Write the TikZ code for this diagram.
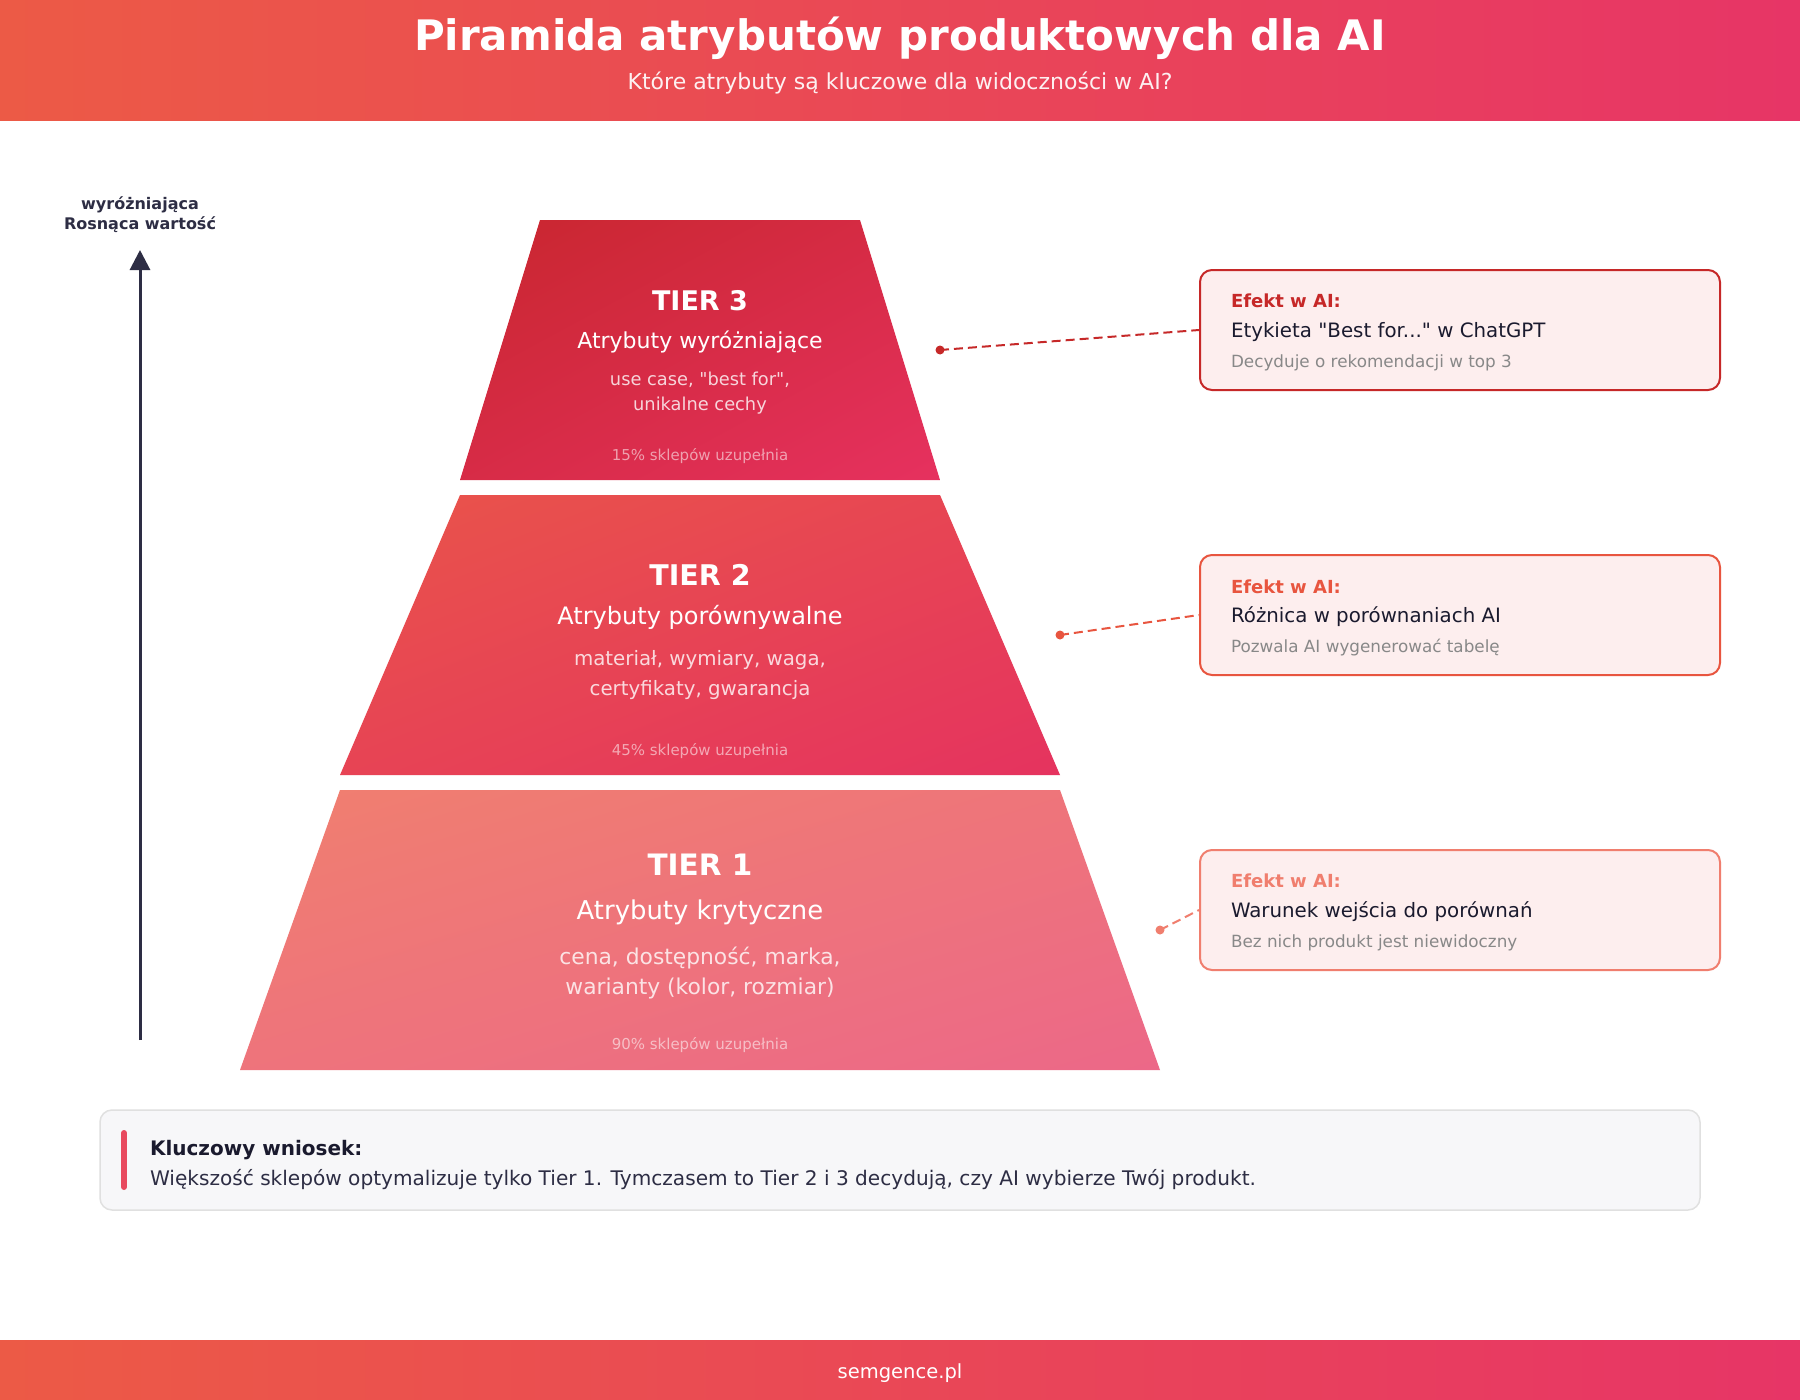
\documentclass[tikz,border=0pt]{standalone}
\usepackage{fontspec}
\setmainfont{DejaVu Sans}[Ligatures=TeXOff]
\usetikzlibrary{arrows.meta,shadings}
\definecolor{hdrL}{HTML}{EC5A46}
\definecolor{hdrR}{HTML}{E73566}
\definecolor{tThreeA}{HTML}{C8262E}
\definecolor{tThreeB}{HTML}{E6315F}
\definecolor{tTwoA}{HTML}{E9544A}
\definecolor{tTwoB}{HTML}{E5335F}
\definecolor{tOneA}{HTML}{F07F6F}
\definecolor{tOneB}{HTML}{EC6888}
\definecolor{navy}{HTML}{2D2D44}
\definecolor{ink}{HTML}{1A1A2E}
\definecolor{subgray}{HTML}{888888}
\definecolor{cRed}{HTML}{C62828}
\definecolor{cOrange}{HTML}{E8553F}
\definecolor{cSalmon}{HTML}{F07E6E}
\definecolor{calloutfill}{HTML}{FDEEEE}
\definecolor{keyfill}{HTML}{F7F7F9}
\definecolor{keyline}{HTML}{E0E0E0}
\definecolor{accent}{HTML}{E84A5F}
\newcommand{\pxs}[1]{\fontsize{#1}{#1}\selectfont}
\newcommand{\sq}{\symbol{34}}
\tikzset{
  txt/.style={inner sep=0pt, outer sep=0pt, anchor=base},
  ltxt/.style={inner sep=0pt, outer sep=0pt, anchor=base west},
  callout/.style={fill=calloutfill, line width=2pt, rounded corners=12pt,
    minimum width=520pt, minimum height=120pt, inner sep=0pt},
  link/.style={line width=2pt, dash pattern=on 9pt off 5pt},
  tiertitle/.style={txt, text=white, font=\bfseries},
  tiername/.style={txt, text=white},
  tierdetail/.style={txt, text=white, text opacity=0.8},
  tierpct/.style={txt, text=white, text opacity=0.55, font=\pxs{15}},
  efekt/.style={ltxt, font=\bfseries\pxs{18}},
  cmain/.style={ltxt, text=ink, font=\pxs{19.8}},
  csub/.style={ltxt, text=subgray, font=\pxs{16.8}},
}
\begin{document}
\begin{tikzpicture}[x=1pt,y=-1pt]
\useasboundingbox (0,0) rectangle (1800,1400);
\fill[white] (0,0) rectangle (1800,1400);
% header
\shade[left color=hdrL, right color=hdrR] (0,0) rectangle (1800,120);
\node[txt, text=white, font=\bfseries\pxs{42}] (title) at (900,50) {Piramida atrybutów produktowych dla AI};
\node[txt, text=white, text opacity=0.92, font=\pxs{22}] (subtitle) at (900,89.5) {Które atrybuty są kluczowe dla widoczności w AI?};
% footer
\shade[left color=hdrL, right color=hdrR] (0,1340) rectangle (1800,1400);
\node[txt, text=white, font=\pxs{19.5}] (footer) at (900,1378) {semgence.pl};
% value arrow
\coordinate (abot) at (140,1040);
\coordinate (atop) at (140,250);
\draw[navy, line width=3pt, -{Triangle[width=20pt,length=20pt]}] (abot) -- (atop);
\node[txt, text=navy, font=\bfseries\pxs{16}] (lab1) at (140,209) {wyróżniająca};
\node[txt, text=navy, font=\bfseries\pxs{16}] (lab2) at (140,229) {Rosnąca wartość};
% tiers
\shade[upper left=tThreeA, lower right=tThreeB, upper right=tThreeA!50!tThreeB, lower left=tThreeA!50!tThreeB]
  (540,220) -- (860,220) -- (940,480) -- (460,480) -- cycle;
\shade[upper left=tTwoA, lower right=tTwoB, upper right=tTwoA!50!tTwoB, lower left=tTwoA!50!tTwoB]
  (460,495) -- (940,495) -- (1060,775) -- (340,775) -- cycle;
\shade[upper left=tOneA, lower right=tOneB, upper right=tOneA!50!tOneB, lower left=tOneA!50!tOneB]
  (340,790) -- (1060,790) -- (1160,1070) -- (240,1070) -- cycle;
% tier 3 texts
\node[tiertitle, font=\bfseries\pxs{27}] (t3a) at (700,310) {TIER 3};
\node[tiername, font=\pxs{22}] (t3b) at (700,348) {Atrybuty wyróżniające};
\node[tierdetail, font=\pxs{17.8}] (t3c) at (700,385) {use case, \sq best for\sq,};
\node[tierdetail, font=\pxs{17.8}] (t3d) at (700,410) {unikalne cechy};
\node[tierpct] (t3e) at (700,460) {15\% sklepów uzupełnia};
% tier 2 texts
\node[tiertitle, font=\bfseries\pxs{28.5}] (t2a) at (700,585) {TIER 2};
\node[tiername, font=\pxs{24}] (t2b) at (700,624) {Atrybuty porównywalne};
\node[tierdetail, font=\pxs{19.8}] (t2c) at (700,665) {materiał, wymiary, waga,};
\node[tierdetail, font=\pxs{19.8}] (t2d) at (700,695) {certyfikaty, gwarancja};
\node[tierpct] (t2e) at (700,755) {45\% sklepów uzupełnia};
% tier 1 texts
\node[tiertitle, font=\bfseries\pxs{29.5}] (t1a) at (700,875) {TIER 1};
\node[tiername, font=\pxs{25.9}] (t1b) at (700,919) {Atrybuty krytyczne};
\node[tierdetail, font=\pxs{21.8}] (t1c) at (700,964) {cena, dostępność, marka,};
\node[tierdetail, font=\pxs{21.8}] (t1d) at (700,994) {warianty (kolor, rozmiar)};
\node[tierpct] (t1e) at (700,1049) {90\% sklepów uzupełnia};
% callouts
\node[callout, draw=cRed] (c3) at (1460,330) {};
\node[callout, draw=cOrange] (c2) at (1460,615) {};
\node[callout, draw=cSalmon] (c1) at (1460,910) {};
\node[efekt, text=cRed] (c3a) at (1231,307) {Efekt w AI:};
\node[cmain] (c3b) at (1231,337) {Etykieta \sq Best for...\sq{} w ChatGPT};
\node[csub] (c3c) at (1231,367) {Decyduje o rekomendacji w top 3};
\node[efekt, text=cOrange] (c2a) at (1231,593) {Efekt w AI:};
\node[cmain] (c2b) at (1231,622) {Różnica w porównaniach AI};
\node[csub] (c2c) at (1231,652) {Pozwala AI wygenerować tabelę};
\node[efekt, text=cSalmon] (c1a) at (1231,887) {Efekt w AI:};
\node[cmain] (c1b) at (1231,917) {Warunek wejścia do porównań};
\node[csub] (c1c) at (1231,947) {Bez nich produkt jest niewidoczny};
% connectors
\coordinate (d3) at (940,350);
\coordinate (d2) at (1060,635);
\coordinate (d1) at (1160,930);
\fill[cRed] (d3) circle (4.5);
\fill[cOrange] (d2) circle (4.5);
\fill[cSalmon] (d1) circle (4.5);
\draw[link, cRed] (d3) -- (c3.west);
\draw[link, cOrange] (d2) -- (c2.west);
\draw[link, cSalmon] (d1) -- (c1.west);
% key takeaway
\node[draw=keyline, fill=keyfill, line width=1.5pt, rounded corners=12pt,
  minimum width=1600pt, minimum height=100pt, inner sep=0pt] (key) at (900,1160) {};
\coordinate (barT) at (124,1133);
\coordinate (barB) at (124,1187);
\draw[accent, line width=6pt, line cap=round] (barT) -- (barB);
\node[ltxt, text=ink, font=\bfseries\pxs{20}] (keyA) at (150,1155) {Kluczowy wniosek:};
\node[ltxt, text=navy, font=\pxs{20.1}] (keyB) at (150,1185) {Większość sklepów optymalizuje tylko Tier 1. Tymczasem to Tier 2 i 3 decydują, czy AI wybierze Twój produkt.};
\end{tikzpicture}
\end{document}
